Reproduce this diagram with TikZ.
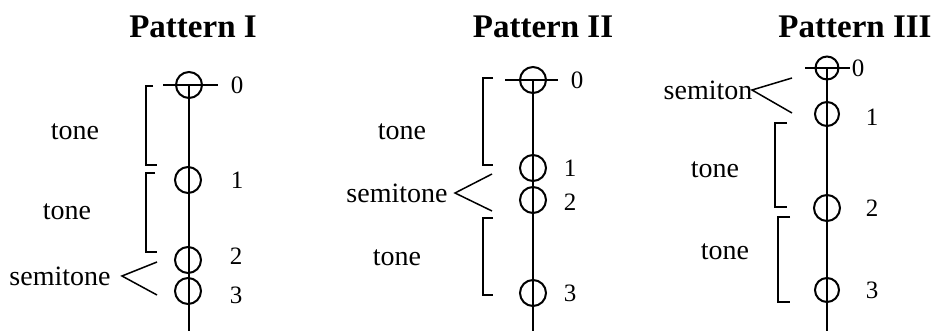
\documentclass[tikz,border=0pt]{standalone}
\usepackage{fontspec}
\setmainfont{Liberation Serif}
\begin{document}
\begin{tikzpicture}[x=1pt,y=-1pt,
 note/.style={circle,draw,line width=2pt,minimum size=26pt,inner sep=0pt},
 num/.style={font=\fontsize{25}{25}\selectfont,inner sep=0pt},
 lab/.style={font=\fontsize{28}{28}\selectfont,inner sep=0pt},
 ttl/.style={font=\fontsize{33}{33}\selectfont\bfseries,inner sep=0pt},
 stem/.style={line width=1.5pt},
 brk/.style={line width=1.5pt}]
\useasboundingbox (0,0) rectangle (940,331);
% ---------- Pattern I ----------
\node[ttl] (t1) at (193,27) {Pattern I};
\node[note] (a0) at (189,85) {};
\node[note] (a1) at (188,180) {};
\node[note] (a2) at (188,260) {};
\node[note] (a3) at (188,291) {};
\coordinate (a4) at (189,331);
\draw[stem] (a0.center) -- (a4);
\coordinate (a0l) at (163,85); \coordinate (a0r) at (218,85);
\draw[stem] (a0l) -- (a0r);
\node[num] (n0) at (237,85) {0};
\node[num] (n1) at (237,180) {1};
\node[num] (n2) at (236,256) {2};
\node[num] (n3) at (236,295) {3};
\draw[brk] (153,86) -- (146,86) -- (146,165) -- (157,165);
\draw[brk] (155,173) -- (146,173) -- (146,252) -- (157,252);
\node[lab] (ta) at (75,132) {tone};
\node[lab] (tb) at (67,212) {tone};
\node[lab] (sa) at (60,276) {semitone};
\coordinate (sax) at (122,276);
\draw[brk] (157,262) -- (sax) -- (157,295);
% ---------- Pattern II ----------
\node[ttl] (t2) at (543,27) {Pattern II};
\node[note] (b0) at (533,80) {};
\node[note] (b1) at (533,168) {};
\node[note] (b2) at (533,200) {};
\node[note] (b3) at (533,293) {};
\coordinate (b4) at (533,331);
\draw[stem] (b0.center) -- (b4);
\coordinate (b0l) at (505,80); \coordinate (b0r) at (558,80);
\draw[stem] (b0l) -- (b0r);
\node[num] (m0) at (577,80) {0};
\node[num] (m1) at (570,168) {1};
\node[num] (m2) at (570,202) {2};
\node[num] (m3) at (570,293) {3};
\draw[brk] (493,78) -- (483,78) -- (483,165) -- (493,165);
\draw[brk] (493,218) -- (483,218) -- (483,295) -- (493,295);
\node[lab] (tc) at (402,132) {tone};
\node[lab] (sb) at (397,193) {semitone};
\node[lab] (td) at (397,258) {tone};
\coordinate (sbx) at (455,193);
\draw[brk] (492,174) -- (sbx) -- (492,211);
% ---------- Pattern III ----------
\node[ttl] (t3) at (855,27) {Pattern III};
\node[note,minimum size=23pt] (c0) at (827,68) {};
\node[note,minimum size=24pt] (c1) at (827,114) {};
\node[note] (c2) at (827,208) {};
\node[note,minimum size=24pt] (c3) at (827,290) {};
\coordinate (c4) at (827,331);
\draw[stem] (c0.center) -- (c4);
\coordinate (c0l) at (805,68); \coordinate (c0r) at (850,68);
\draw[stem] (c0l) -- (c0r);
\node[num] (k0) at (858,68) {0};
\node[num] (k1) at (872,117) {1};
\node[num] (k2) at (872,208) {2};
\node[num] (k3) at (872,290) {3};
\node[lab] (sc) at (708,90) {semiton};
\coordinate (scx) at (752,90);
\draw[brk] (792,78) -- (scx) -- (792,113);
\draw[brk] (787,123) -- (775,123) -- (775,207) -- (787,207);
\draw[brk] (790,217) -- (778,217) -- (778,302) -- (790,302);
\node[lab] (te) at (715,170) {tone};
\node[lab] (tf) at (725,252) {tone};
\end{tikzpicture}
\end{document}
